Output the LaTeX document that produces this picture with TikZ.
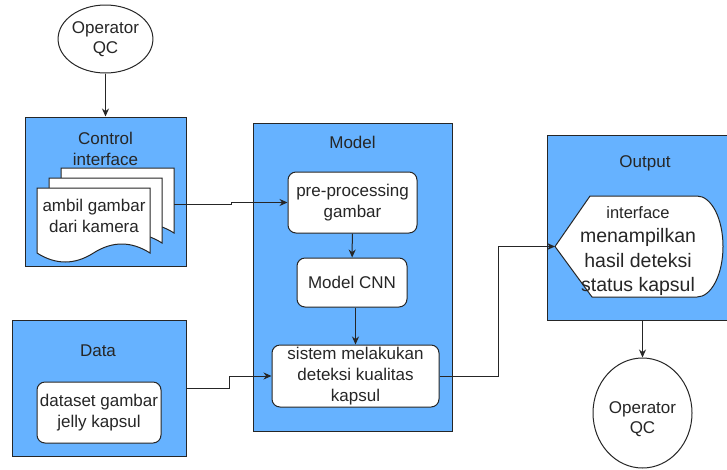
\documentclass[tikz,border=0pt]{standalone}
\usepackage{fontspec}
\setmainfont{Liberation Sans}
\usetikzlibrary{shapes.geometric,arrows.meta}

\definecolor{boxblue}{HTML}{66B2FF}
\definecolor{linecol}{HTML}{262626}
\definecolor{txtcol}{HTML}{262626}

\tikzset{
    container/.style={draw=linecol, fill=boxblue, line width=1pt, minimum width=#1},
    roundbox/.style={draw=linecol, fill=white, line width=1pt, rounded corners=8pt,
        align=center, inner sep=0pt},
    title/.style={align=center, inner sep=0pt},
    oval/.style={ellipse, draw=linecol, fill=white, line width=1pt, align=center, inner sep=0pt},
    conn/.style={draw=linecol, line width=1pt, -{Stealth[length=8pt,width=7pt]}},
    page/.style={draw=linecol, fill=white, line width=1pt},
}

\begin{document}
\begin{tikzpicture}[x=1pt, y=-1pt, every node/.style={text=txtcol, font=\fontsize{17}{20.5}\selectfont}]

\useasboundingbox (0,0) rectangle (727,469);

% operator at the top
\node[oval, minimum width=87, minimum height=68] (opTop) at (105.5,39) {Operator\\QC};

% control interface
\node[container=161, minimum height=149] (ctrl) at (105.5,191.5) {};
\node[title] (ctrlT) at (105.5,149) {Control\\interface};

% stacked documents
\foreach \px/\py in {61/168, 49/178, 37/188}
    \draw[page] (\px,\py) -- ++(113,0) -- ++(0,65)
        .. controls ++(-18.83,-12) and ++(18.83,-12) .. ++(-56.5,0)
        .. controls ++(-18.83,12) and ++(18.83,12) .. ++(-56.5,0) -- cycle;
\node[align=center, inner sep=0pt] (docText) at (94,216) {ambil gambar\\dari kamera};
\node[inner sep=0pt, minimum width=137] (docs) at (105.5,204) {};

% data
\node[container=174, minimum height=136] (data) at (99,388) {};
\node[title] (dataT) at (98,351) {Data};
\node[roundbox, minimum width=124, minimum height=61] (dset) at (99,412.5) {dataset gambar\\jelly kapsul};

% model
\node[container=199, minimum height=308] (model) at (352.5,277) {};
\node[title] (modelT) at (352.5,142) {Model};
\node[roundbox, minimum width=129, minimum height=61] (pre) at (352.5,202.5) {pre-processing\\gambar};
\node[roundbox, minimum width=110, minimum height=49] (cnn) at (352,282.5) {Model CNN};
\node[roundbox, minimum width=167, minimum height=62, font=\fontsize{17}{21}\selectfont] (sys) at (355.5,376)
    {sistem melakukan\\deteksi kualitas\\kapsul};

% output
\node[container=198, minimum height=185] (out) at (646,227.5) {};
\node[title] (outT) at (645,163) {Output};
\draw[page] (555,246.5) -- (590,196) -- (697,196)
    arc[start angle=90, end angle=-90, x radius=26pt, y radius=50.5pt]
    -- (592,297) -- cycle;
\coordinate (disp) at (555,246.5);
\node[align=center, inner sep=0pt, font=\fontsize{19.5}{24.5}\selectfont] (dispText) at (638,251)
    {{\fontsize{16.5}{20}\selectfont interface}\\menampilkan\\hasil deteksi\\status kapsul};

% operator at the bottom
\node[oval, minimum width=99, minimum height=110] (opBot) at (642.5,413) {};
\node[title] (opBotT) at (642.5,419) {Operator\\QC};

% connectors
\draw[conn] (opTop) -- (ctrl);
\draw[conn] (docs.east) -- ++(57,0) |- (pre.west);
\draw[conn] (data.east) -- ++(43,0) |- (sys.west);
\draw[conn] (pre) -- (cnn);
\draw[conn] (sys.north |- cnn.south) -- (sys.north);
\draw[conn] (sys.east) -- ++(59,0) |- (disp);
\draw[conn] (opBot.north |- out.south) -- (opBot.north);

\end{tikzpicture}
\end{document}
